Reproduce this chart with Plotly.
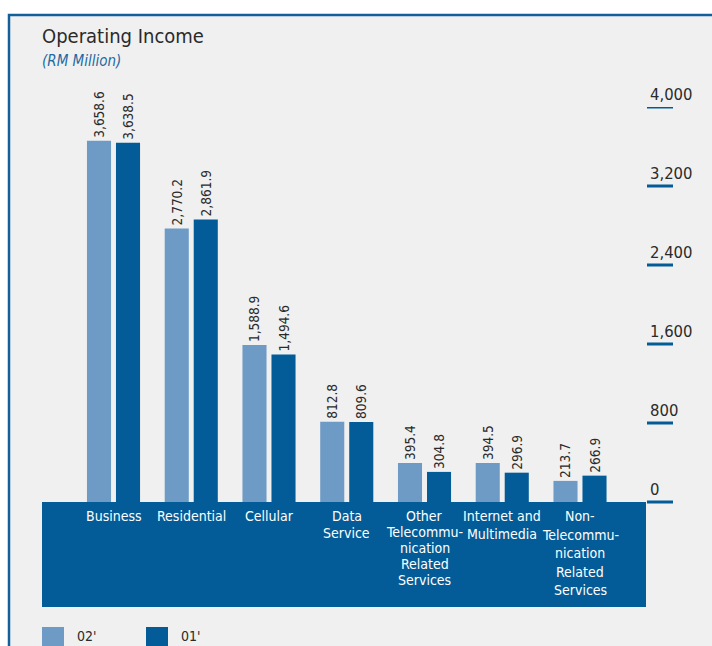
import plotly.graph_objects as go

# ---- data -------------------------------------------------------------
category_lines = [
    ["Business"],
    ["Residential"],
    ["Cellular"],
    ["Data", "Service"],
    ["Other", "Telecommu-", "nication", "Related", "Services"],
    ["Internet and", "Multimedia"],
    ["Non-", "Telecommu-", "nication", "Related", "Services"],
]
categories = [" ".join(lines) for lines in category_lines]

series_names = ["02'", "01'"]
income_02 = [3658.6, 2770.2, 1588.9, 812.8, 395.4, 394.5, 213.7]
income_01 = [3638.5, 2861.9, 1494.6, 809.6, 304.8, 296.9, 266.9]

tick_values = [0, 800, 1600, 2400, 3200, 4000]

# ---- style ------------------------------------------------------------
W, H = 712, 646
L, R, T, B = 42, 646, 107, 607          # plot area in pixels
LIGHT = "#6d9bc5"
DARK = "#035c97"
FRAME = "#11609a"
BG = "#f0f0f0"
INK = "#2a2a2a"
FONT = "DejaVu Sans Condensed, Liberation Sans Narrow, sans-serif"
line_gap = [16, 16, 16, 16.5, 16, 18.3, 18.5]   # label line spacing per category

Y_TOP = 4000
Y_BOTTOM = -(B - 502) / ((502 - T) / Y_TOP)    # zero sits on the band's top edge
X_LO = (L - 113.5) / 77.75
X_HI = (R - 113.5) / 77.75


def px_x(px):
    return (px - L) / (R - L)


def px_y(py):
    return (B - py) / (B - T)


fig = go.Figure()
for name, vals, color in [(series_names[0], income_02, LIGHT),
                          (series_names[1], income_01, DARK)]:
    fig.add_trace(go.Bar(
        name=name, x=categories, y=vals, marker_color=color,
        marker_line_width=0,
        texttemplate="%{y:,.1f}&nbsp;", textposition="outside", textangle=-90,
        textfont=dict(family=FONT, size=13.5, color=INK),
        constraintext="none", cliponaxis=False,
    ))

shapes = [
    # panel background with its blue frame
    dict(type="rect", xref="paper", yref="paper",
         x0=px_x(9), x1=px_x(W + 40), y0=px_y(H + 40), y1=px_y(15),
         fillcolor=BG, line=dict(color=FRAME, width=2.5), layer="below"),
    # category band under the baseline
    dict(type="rect", xref="paper", yref="y", x0=0, x1=1,
         y0=Y_BOTTOM, y1=0, fillcolor=DARK, line_width=0, layer="below"),
]

annotations = [
    dict(text="Operating Income", xref="paper", yref="paper",
         x=px_x(40), y=px_y(36), xanchor="left", yanchor="middle",
         showarrow=False, font=dict(family=FONT, size=20, color=INK)),
    dict(text="<i>(RM Million)</i>", xref="paper", yref="paper",
         x=px_x(40), y=px_y(61), xanchor="left", yanchor="middle",
         showarrow=False, font=dict(family=FONT, size=15, color="#1d6aa3")),
]

# value scale on the right: underlined labels
for v in tick_values:
    shapes.append(dict(type="line", xref="paper", yref="y",
                       x0=px_x(647), x1=px_x(673), y0=v, y1=v,
                       line=dict(color=DARK, width=3)))
    annotations.append(dict(text=f"{v:,}", xref="paper", yref="y",
                            x=px_x(648), y=v, xanchor="left", yanchor="bottom",
                            yshift=1, showarrow=False,
                            font=dict(family=FONT, size=16.5, color=INK)))

# category names inside the band
for cat, lines, gap in zip(categories, category_lines, line_gap):
    for i, line in enumerate(lines):
        annotations.append(dict(text=line, xref="x", yref="y", x=cat, y=0,
                                xanchor="center", yanchor="middle",
                                yshift=-(14 + gap * i), showarrow=False,
                                font=dict(family=FONT, size=14, color="white")))

# legend swatches
for name, color, x0 in [(series_names[0], LIGHT, 42), (series_names[1], DARK, 146)]:
    shapes.append(dict(type="rect", xref="paper", yref="paper",
                       x0=px_x(x0), x1=px_x(x0 + 22), y0=px_y(H + 5), y1=px_y(627),
                       fillcolor=color, line_width=0))
    annotations.append(dict(text=name, xref="paper", yref="paper",
                            x=px_x(x0 + 33), y=px_y(636), xanchor="left",
                            yanchor="middle", showarrow=False,
                            font=dict(family=FONT, size=14, color=INK)))

fig.update_layout(
    width=W, height=H,
    margin=dict(l=L, r=W - R, t=T, b=H - B, pad=0),
    paper_bgcolor="white", plot_bgcolor="rgba(0,0,0,0)",
    barmode="group", bargap=0.254, bargroupgap=0.17,
    showlegend=False,
    xaxis=dict(range=[X_LO, X_HI], showticklabels=False, showgrid=False,
               zeroline=False, showline=False, ticks=""),
    yaxis=dict(range=[Y_BOTTOM, Y_TOP], showticklabels=False, showgrid=False,
               zeroline=False, showline=False, ticks=""),
    shapes=shapes, annotations=annotations,
    font=dict(family=FONT),
)

fig.write_html("out.html")
